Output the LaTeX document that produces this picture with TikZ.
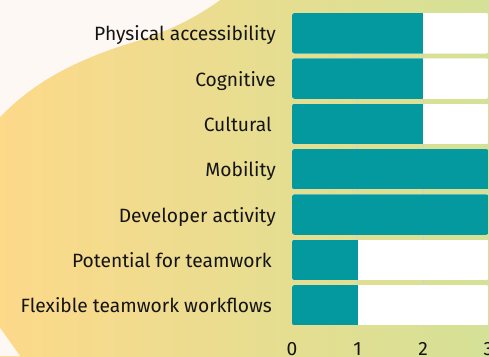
\documentclass[tikz,border=0pt]{standalone}
\usepackage{fontspec}
\setmainfont{Fira Sans}
\begin{document}
\begin{tikzpicture}[x=1bp,y=-1bp,
  lbl/.style={anchor=base east,inner sep=0pt,text=black!92,font=\fontsize{19.3}{21}\selectfont},
  tick/.style={anchor=base,inner sep=0pt,text=black!92,font=\fontsize{19.3}{21}\selectfont},
  grid/.style={draw=black!18,line width=0.8bp}]
\definecolor{bgL}{HTML}{FDD98A}
\definecolor{bgR}{HTML}{D4E196}
\definecolor{blob}{HTML}{FEF8F4}
\definecolor{barteal}{HTML}{04989F}
\useasboundingbox (0,0) rectangle (489,356);
\shade[left color=bgL,right color=bgR] (0,0) rectangle (489,356);
\fill[blob] (0,0) -- (220,0) .. controls (195,18) and (170,30) .. (140,40) .. controls (90,55) and (40,75) .. (0,117) -- cycle;
\fill[blob] (0,328) -- (20,356) -- (0,356) -- cycle;
% grid
\coordinate (g1t) at (357.5,13); \coordinate (g1b) at (357.5,327);
\coordinate (g2t) at (423,13); \coordinate (g2b) at (423,327);
\draw[grid] (g1t) -- (g1b);
\draw[grid] (g2t) -- (g2b);
% bars
\foreach \i/\v/\t/\e in {0/2/{Physical accessibility}/276, 1/2/{Cognitive}/276, 2/2/{Cultural}/272, 3/3/{Mobility}/276, 4/3/{Developer activity}/276, 5/1/{Potential for teamwork}/272, 6/1/{Flexible teamwork workflows}/272}{
  \pgfmathsetmacro{\yt}{13+45.33*\i}
  \pgfmathsetmacro{\yb}{\yt+40.5}
  \pgfmathsetmacro{\ym}{\yt+20.25+7.5}
  \pgfmathsetmacro{\xv}{292+65.5*\v}
  \begin{scope}
    \clip[rounded corners=2.5bp] (292,\yt) rectangle (488.5,\yb);
    \fill[white] (292,\yt) rectangle (488.5,\yb);
    \fill[barteal] (292,\yt) rectangle (\xv,\yb);
  \end{scope}
  \node[lbl] (l\i) at (\e,\ym) {\t};
}
\node[tick] (t0) at (292,355) {0};
\node[tick] (t1) at (357.5,355) {1};
\node[tick] (t2) at (423,355) {2};
\node[tick] (t3) at (488.5,355) {3};
\end{tikzpicture}
\end{document}
